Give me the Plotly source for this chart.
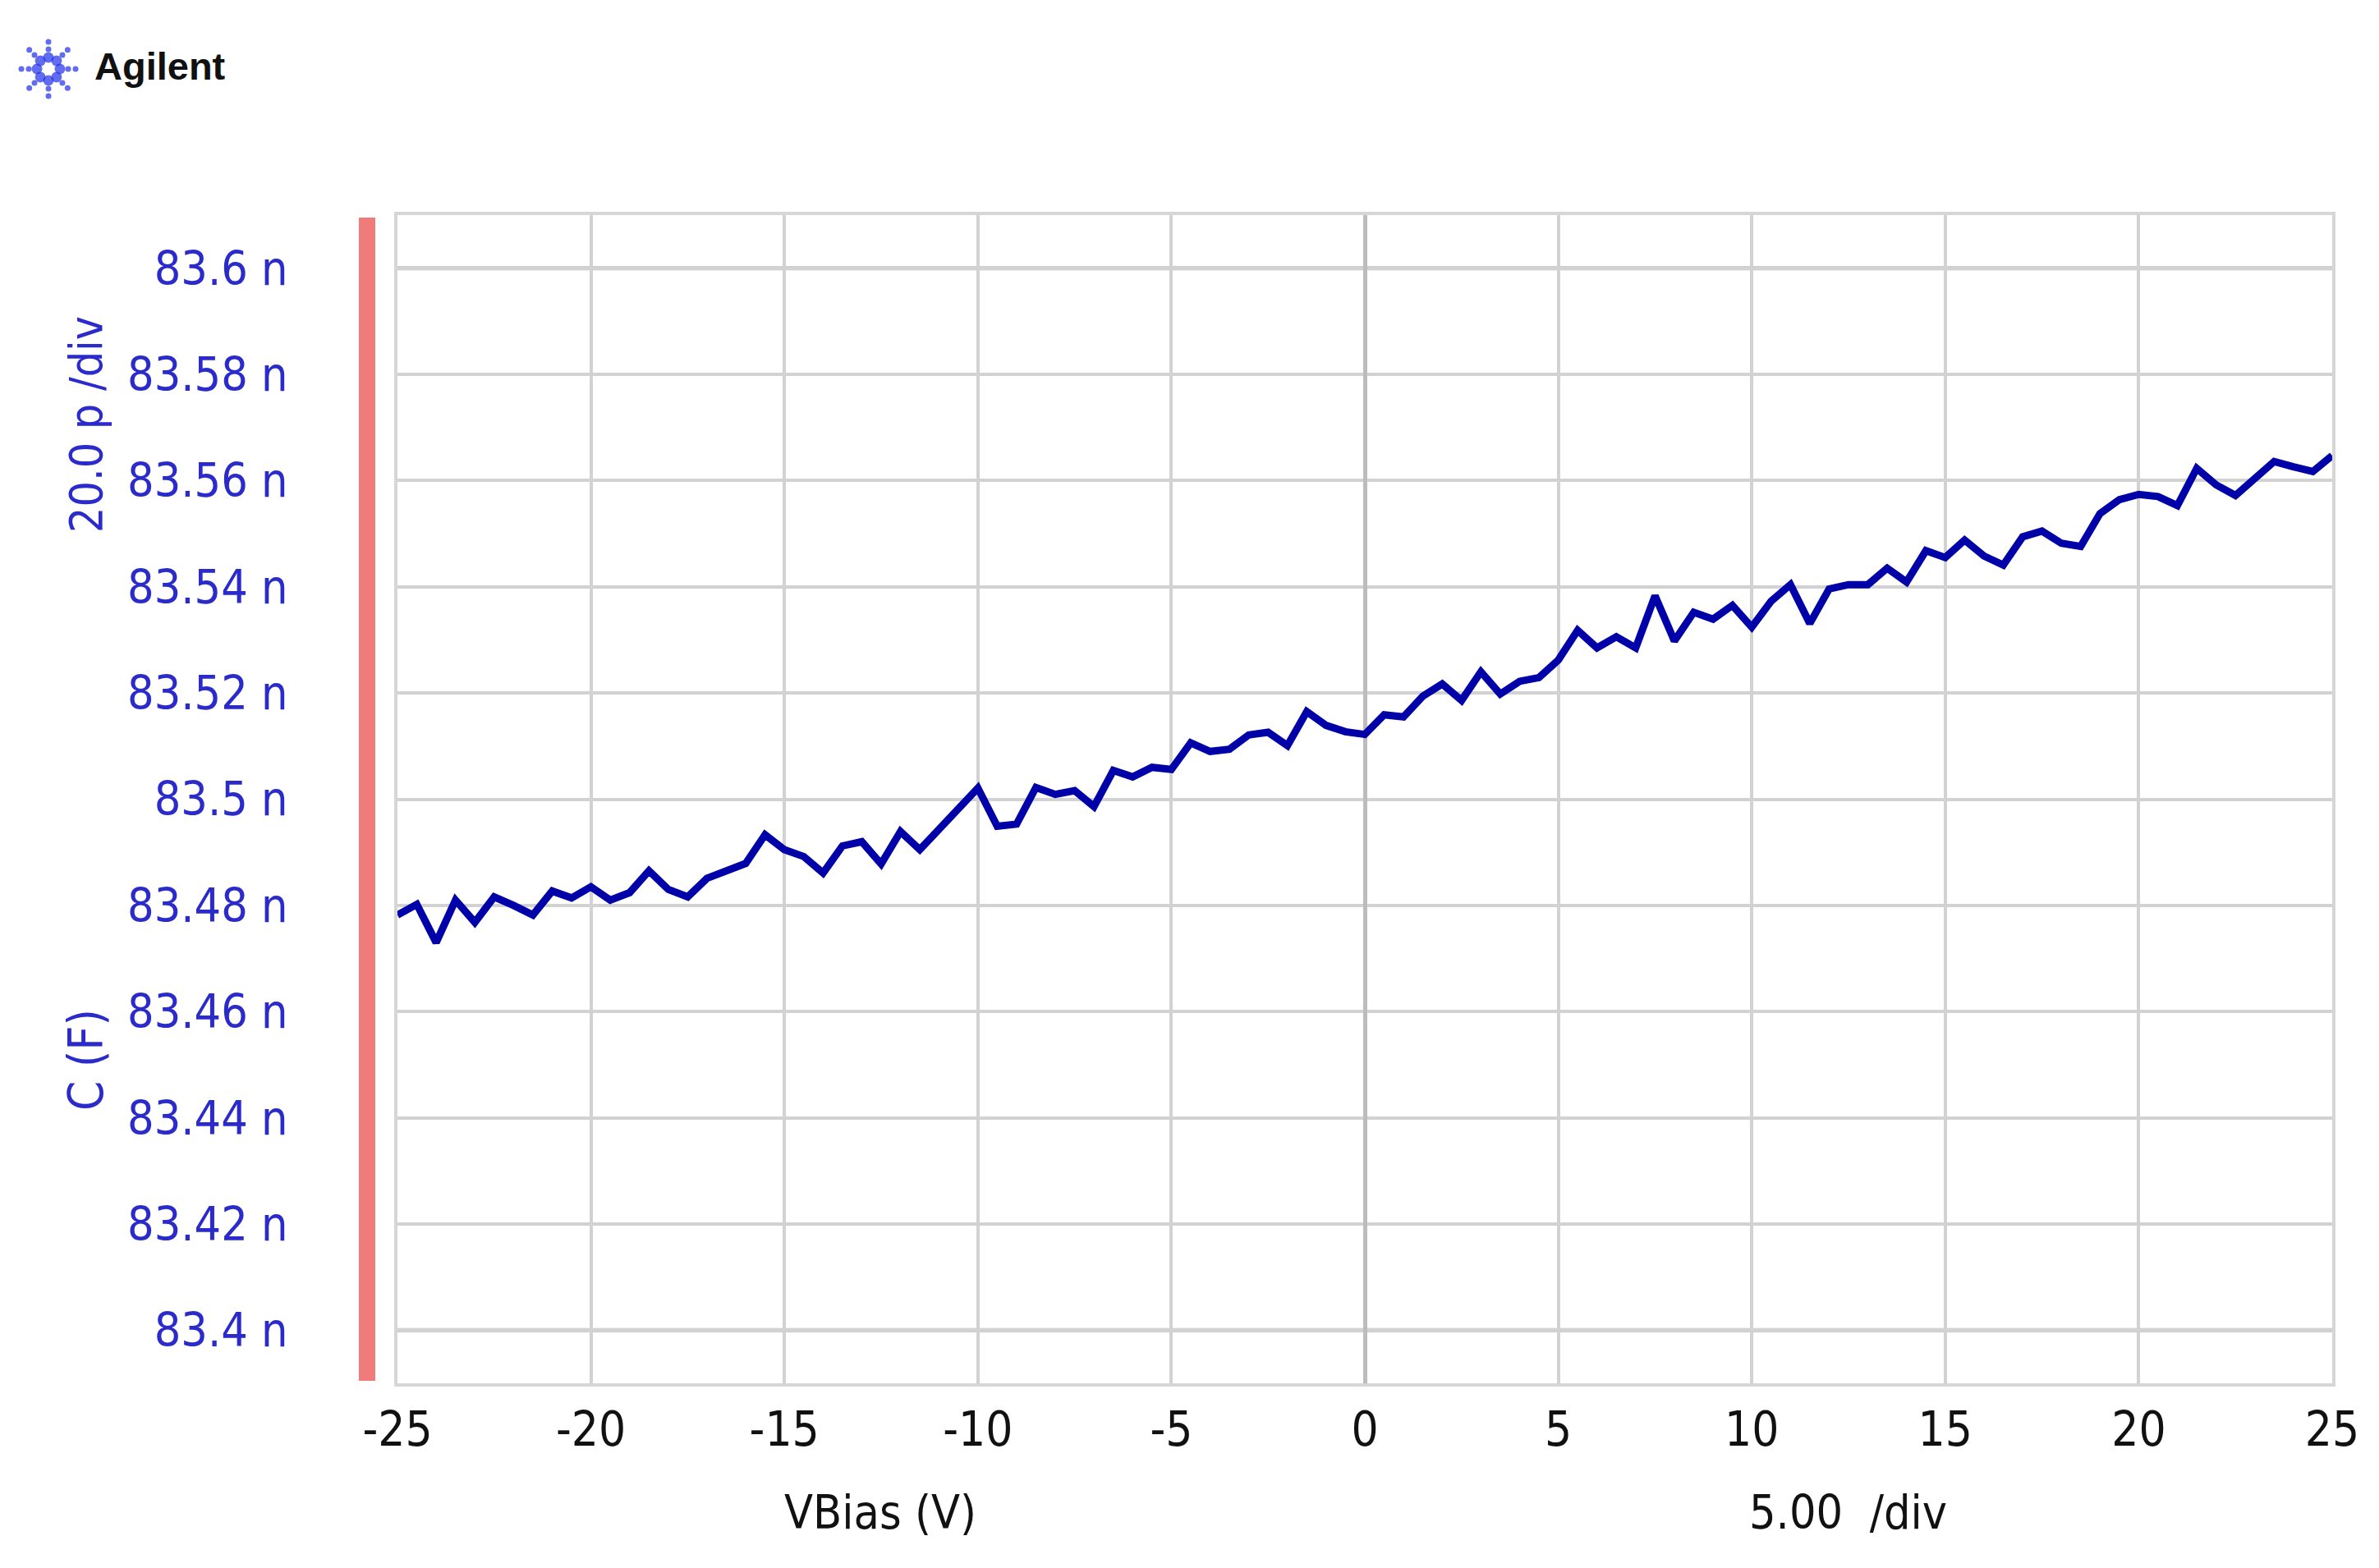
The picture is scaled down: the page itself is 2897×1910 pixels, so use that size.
import math
import plotly.graph_objects as go

W, H = 2897, 1910

# sweep voltage (V), 0.5 V steps
vbias = [v / 2 for v in range(-50, 51)]

cap_nf = [
    83.4782, 83.4802, 83.4730, 83.4810, 83.4768, 83.4816, 83.4800, 83.4782, 83.4827, 83.4814,
    83.4835, 83.4810, 83.4824, 83.4865, 83.4830, 83.4816, 83.4851, 83.4866, 83.4879, 83.4933,
    83.4905, 83.4892, 83.4861, 83.4912, 83.4920, 83.4878, 83.4939, 83.4905, 83.4943, 83.4984,
    83.5021, 83.4949, 83.4953, 83.5022, 83.5009, 83.5016, 83.4986, 83.5054, 83.5042, 83.5060,
    83.5056, 83.5106, 83.5090, 83.5094, 83.5121, 83.5126, 83.5101, 83.5165, 83.5139, 83.5127,
    83.5122, 83.5159, 83.5155, 83.5194, 83.5217, 83.5186, 83.5240, 83.5198, 83.5222, 83.5229,
    83.5262, 83.5318, 83.5285, 83.5306, 83.5285, 83.5383, 83.5298, 83.5352, 83.5339, 83.5365,
    83.5324, 83.5373, 83.5404, 83.5331, 83.5396, 83.5404, 83.5404, 83.5435, 83.5409, 83.5468,
    83.5455, 83.5488, 83.5458, 83.5441, 83.5494, 83.5505, 83.5482, 83.5476, 83.5538, 83.5564,
    83.5574, 83.5570, 83.5553, 83.5623, 83.5592, 83.5572, 83.5605, 83.5636, 83.5626, 83.5617,
    83.5647,
]
assert len(vbias) == len(cap_nf)

x_ticks = [-25, -20, -15, -10, -5, 0, 5, 10, 15, 20, 25]
x_ticktext = ["-25", "-20", "-15", "-10", "-5", "0", "5", "10", "15", "20", "25"]
y_ticks = [83.40, 83.42, 83.44, 83.46, 83.48, 83.50, 83.52, 83.54, 83.56, 83.58, 83.60]
y_ticktext = ["83.4 n", "83.42 n", "83.44 n", "83.46 n", "83.48 n", "83.5 n",
              "83.52 n", "83.54 n", "83.56 n", "83.58 n", "83.6 n"]

NARROW = "DejaVu Sans Condensed, Liberation Sans Narrow, Liberation Sans, sans-serif"
BLUE_TXT = "#2B2BCC"
GRID = "#D2D2D2"


def fx(p):
    return p / W


def fy(p):
    return 1 - p / H


fig = go.Figure()
fig.add_trace(go.Scatter(
    x=vbias, y=cap_nf, mode="lines",
    line=dict(color="#0000A8", width=9),
    hoverinfo="skip", showlegend=False,
))

# Agilent spark logo (decoration), drawn on its own small axis
lx, ly, lsz = [], [], []
for k in range(8):
    a = k * math.pi / 4
    for r, s in ((14, 13), (24, 7), (33, 7)):
        lx.append(r * math.cos(a))
        ly.append(r * math.sin(a))
        lsz.append(s)
fig.add_trace(go.Scatter(
    x=lx, y=ly, mode="markers", xaxis="x2", yaxis="y2",
    marker=dict(color="#1E2EE8", size=lsz, line=dict(width=0)),
    hoverinfo="skip", showlegend=False,
))

fig.update_layout(
    width=W, height=H,
    margin=dict(l=0, r=0, t=0, b=0, autoexpand=False),
    paper_bgcolor="white", plot_bgcolor="white",
    showlegend=False, hovermode=False,
    xaxis=dict(
        domain=[fx(484), fx(2840)], range=[-25, 25], automargin=False,
        tickvals=x_ticks, ticktext=x_ticktext, ticks="", ticklabelstandoff=2,
        tickfont=dict(family=NARROW, size=58, color="#111111"),
        showgrid=True, gridcolor=GRID, gridwidth=4,
        zeroline=True, zerolinecolor="#BCBCBC", zerolinewidth=5,
        showline=True, mirror=True, linecolor="#D6D6D6", linewidth=4,
    ),
    yaxis=dict(
        domain=[fy(1685), fy(262)], range=[83.39, 83.61], automargin=False,
        tickvals=y_ticks, ticktext=y_ticktext, ticks="", ticklabelstandoff=118,
        tickfont=dict(family=NARROW, size=57, color=BLUE_TXT),
        showgrid=True, gridcolor=GRID, gridwidth=4, zeroline=False,
        showline=True, mirror=True, linecolor="#D6D6D6", linewidth=4,
    ),
    xaxis2=dict(domain=[fx(14), fx(104)], range=[-45, 45], visible=False,
                anchor="y2", automargin=False),
    yaxis2=dict(domain=[fy(129), fy(39)], range=[-45, 45], visible=False,
                anchor="x2", automargin=False),
)

# heavier outer grid lines at the end ticks
for yv in (y_ticks[0], y_ticks[-1]):
    fig.add_hline(y=yv, line=dict(color="#BDBDBD", width=5), layer="below")

# red status bar left of the plot
fig.add_shape(type="rect", xref="paper", yref="paper",
              x0=fx(437), x1=fx(457), y0=fy(1682), y1=fy(265),
              fillcolor="#F07B7B", line=dict(width=0))

ann = [
    dict(text="20.0 p /div", x=fx(105), y=fy(517), textangle=-90,
         font=dict(family=NARROW, size=55, color=BLUE_TXT)),
    dict(text="C (F)", x=fx(105), y=fy(1291), textangle=-90,
         font=dict(family=NARROW, size=58, color=BLUE_TXT)),
    dict(text="VBias (V)", x=fx(1072), y=fy(1842),
         font=dict(family=NARROW, size=57, color="#111111")),
    dict(text="5.00\u00a0 /div", x=fx(2250), y=fy(1842),
         font=dict(family=NARROW, size=57, color="#111111")),
    dict(text="<b>Agilent</b>", x=fx(113), y=fy(81), xanchor="left",
         font=dict(family="Liberation Sans, Arial, sans-serif", size=47, color="#111111")),
]
for a in ann:
    a.setdefault("xanchor", "center")
    fig.add_annotation(xref="paper", yref="paper", yanchor="middle", showarrow=False, **a)

fig.write_html("out.html", config={"displayModeBar": False},
               post_script="document.body.style.margin='0';document.body.style.overflow='hidden';")
